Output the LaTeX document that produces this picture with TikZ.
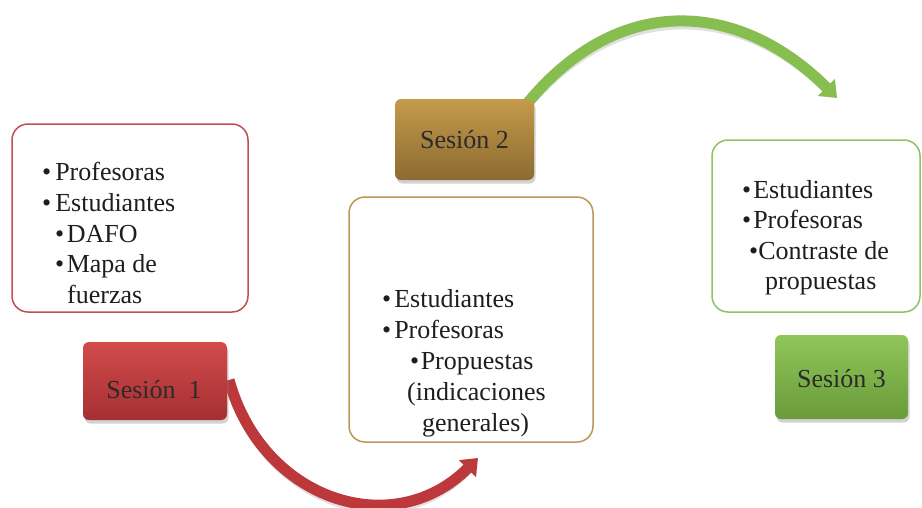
\documentclass[tikz,border=0pt]{standalone}
\usepackage{fontspec}
\setmainfont{Liberation Serif}
\usetikzlibrary{arrows.meta,shadows}
\definecolor{redTop}{HTML}{D24B4A}
\definecolor{redBot}{HTML}{A52F33}
\definecolor{redLine}{HTML}{C0504D}
\definecolor{redArr}{HTML}{BC383B}
\definecolor{goldTop}{HTML}{C49B4C}
\definecolor{goldBot}{HTML}{8C6A31}
\definecolor{goldLine}{HTML}{BB9858}
\definecolor{grnTop}{HTML}{8FC65A}
\definecolor{grnBot}{HTML}{6A9B3A}
\definecolor{grnLine}{HTML}{8EC462}
\definecolor{grnArr}{HTML}{86BE50}
\definecolor{txtc}{HTML}{1E1E1E}
\definecolor{labc}{HTML}{2B2B2B}
\begin{document}
\begin{tikzpicture}[x=1pt,y=-1pt,
  listbox/.style={draw, line width=1.5pt, rounded corners=16pt, fill=white, inner sep=0pt},
  sesbox/.style={rounded corners=6pt, inner sep=0pt,
    drop shadow={shadow xshift=1.5pt, shadow yshift=-3.5pt, opacity=0.35}},
  txt/.style={anchor=base west, inner sep=0pt, text=txtc, font=\fontsize{26}{31}\selectfont},
  lab/.style={anchor=base, inner sep=0pt, text=labc, font=\fontsize{26}{31}\selectfont},
  bandarrow/.style={line width=11pt, -{Triangle[length=15pt,width=23pt]}},
  bandshadow/.style={line width=11pt, draw=black, opacity=0.12, -{Triangle[length=15pt,width=23pt]}}
]
\useasboundingbox (0,0) rectangle (922,507);
\fill[white] (0,0) rectangle (922,507);

% coordinates for arrow ends
\coordinate (r0) at (229,380);
\coordinate (r1) at (478,458);
\coordinate (g0) at (522,110);
\coordinate (g1) at (837,98);

% arrows (behind boxes)
\draw[bandshadow, shift={(2,4)}] (r0) .. controls (262,500) and (393,543) .. (r1);
\draw[bandarrow, draw=redArr] (r0) .. controls (262,500) and (393,543) .. (r1);
\draw[bandshadow, shift={(2,4)}] (g0) .. controls (614,-8) and (737,-2) .. (g1);
\draw[bandarrow, draw=grnArr] (g0) .. controls (614,-8) and (737,-2) .. (g1);

% list boxes
\node[listbox, draw=redLine, minimum width=236pt, minimum height=188pt] (b1) at (130,218) {};
\node[listbox, draw=goldLine, minimum width=244pt, minimum height=245pt] (b2) at (471,319.5) {};
\node[listbox, draw=grnLine, minimum width=208pt, minimum height=172pt] (b3) at (816,226) {};

% session boxes
\node[sesbox, top color=redTop, bottom color=redBot, minimum width=144pt, minimum height=78pt] (s1) at (155,381) {};
\node[sesbox, top color=goldTop, bottom color=goldBot, minimum width=139pt, minimum height=81pt] (s2) at (464.5,139.5) {};
\node[sesbox, top color=grnTop, bottom color=grnBot, minimum width=133pt, minimum height=84pt] (s3) at (841.5,377) {};

\node[lab] (s1t) at (154,398) {Sesión\ \ 1};
\node[lab] (s2t) at (464.5,148) {Sesión 2};
\node[lab] (s3t) at (841.5,387) {Sesión 3};

% box 1 text
\node[txt] (t11) at (42,180) {\textbullet\kern4pt Profesoras};
\node[txt] (t12) at (42,211) {\textbullet\kern4pt Estudiantes};
\node[txt] (t13) at (55,242) {\textbullet\kern2.5pt DAFO};
\node[txt] (t14) at (55,272) {\textbullet\kern2.5pt Mapa de};
\node[txt] (t15) at (67,303) {fuerzas};

% box 2 text
\node[txt] (t21) at (382,307) {\textbullet\kern3pt Estudiantes};
\node[txt] (t22) at (382,338) {\textbullet\kern3pt Profesoras};
\node[txt] (t23) at (410,369) {\textbullet\kern1.5pt Propuestas};
\node[txt] (t24) at (407,400) {(indicaciones};
\node[txt] (t25) at (422,431) {generales)};

% box 3 text
\node[txt] (t31) at (742,198) {\textbullet\kern2pt Estudiantes};
\node[txt] (t32) at (742,228) {\textbullet\kern2pt Profesoras};
\node[txt] (t33) at (749,259) {\textbullet\kern0pt Contraste de};
\node[txt] (t34) at (765,289) {propuestas};
\end{tikzpicture}
\end{document}
